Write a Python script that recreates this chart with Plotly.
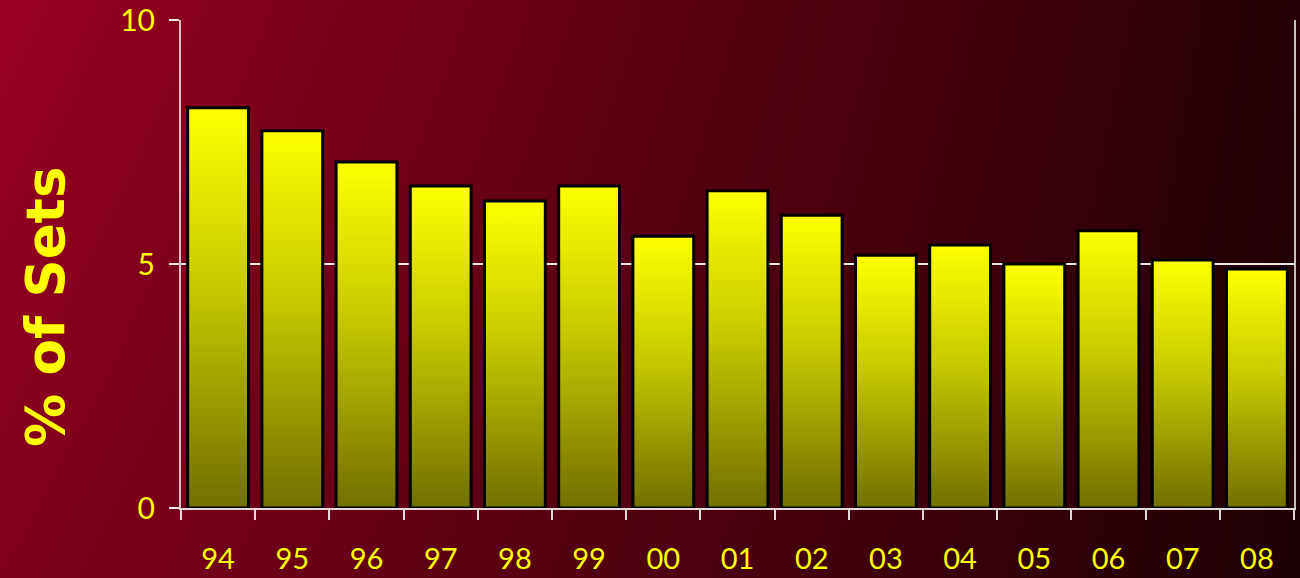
import plotly.graph_objects as go

years = ["94", "95", "96", "97", "98", "99", "00", "01", "02", "03", "04", "05", "06", "07", "08"]
pct_sets = [8.2, 7.73, 7.09, 6.6, 6.29, 6.6, 5.57, 6.5, 6.0, 5.18, 5.39, 5.0, 5.68, 5.08, 4.9]
y_ticks = [0, 5, 10]

W, H = 1300, 578
left, right, top, bottom = 181, 1294, 20, 508
half = 0.41
yellow = "#ffff00"
font_fam = "Comic Sans MS, Lato, Noto Sans, sans-serif"

fig = go.Figure()

# background gradient (red on the left fading to near black on the right)
fig.add_trace(go.Heatmap(
    z=[[0.8, 0.0], [1.0, 0.06]], x=[0, 1], y=[0, 1],
    colorscale=[[0, "#1e0004"], [0.5, "#5a0012"], [1, "#9a0022"]],
    zmin=0, zmax=1, zsmooth="best", showscale=False, hoverinfo="skip",
    xaxis="x", yaxis="y"))

# bars as filled polygons with a vertical gradient
for i, (yr, v) in enumerate(zip(years, pct_sets)):
    fig.add_trace(go.Scatter(
        x=[i - half, i + half, i + half, i - half, i - half],
        y=[0, 0, v, v, 0],
        mode="lines", fill="toself",
        fillgradient=dict(type="vertical",
                          colorscale=[[0, "#707000"], [0.55, "#c8c800"], [1, "#ffff00"]]),
        line=dict(color="black", width=3),
        name=yr, showlegend=False,
        xaxis="x2", yaxis="y2"))

fig.update_layout(
    template="none",
    width=W, height=H,
    margin=dict(l=0, r=0, t=0, b=0, pad=0),
    paper_bgcolor="#300008",
    plot_bgcolor="rgba(0,0,0,0)",
    showlegend=False,
    xaxis=dict(domain=[0, 1], range=[0, 1], visible=False, fixedrange=True, automargin=False),
    yaxis=dict(domain=[0, 1], range=[0, 1], visible=False, fixedrange=True, automargin=False),
    xaxis2=dict(
        domain=[left / W, right / W], anchor="y2", automargin=False,
        range=[-0.5, len(years) - 0.5],
        tickvals=list(range(len(years))), ticktext=years,
        ticks="", showgrid=False, zeroline=False,
        showline=True, linecolor="rgba(255,255,255,0.85)", linewidth=2,
        tickfont=dict(family=font_fam, size=29, color=yellow),
        ticklabelstandoff=24,
        minor=dict(tickvals=[k - 0.5 for k in range(len(years) + 1)],
                   ticks="outside", ticklen=10, tickcolor="rgba(255,255,255,0.85)",
                   tickwidth=2, showgrid=False),
    ),
    yaxis2=dict(
        domain=[1 - bottom / H, 1 - top / H], anchor="x2", automargin=False,
        range=[0, 10], tickvals=y_ticks,
        ticks="outside", ticklen=10, tickcolor="rgba(255,255,255,0.9)", tickwidth=2,
        showgrid=True, gridcolor="rgba(255,255,255,0.9)", gridwidth=2,
        zeroline=False,
        showline=True, mirror=True, linecolor="rgba(255,255,255,0.75)", linewidth=2,
        tickfont=dict(family=font_fam, size=30, color=yellow),
        ticklabelstandoff=8,
    ),
    annotations=[dict(
        text="<b>% of Sets</b>", textangle=-90, showarrow=False,
        xref="paper", yref="paper", x=45 / W, y=1 - 307 / H,
        xanchor="center", yanchor="middle",
        font=dict(family="DejaVu Sans, sans-serif", size=53, color=yellow))],
)

fig.write_html("out.html", config={"displayModeBar": False},
               post_script="document.body.style.margin='0px';")
